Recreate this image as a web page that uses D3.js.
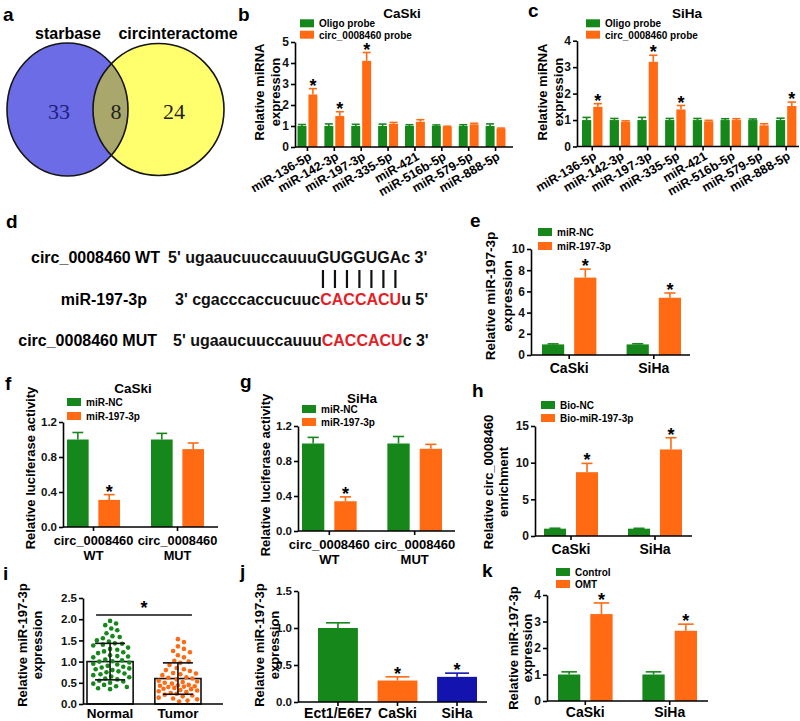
<!DOCTYPE html>
<html lang="en">
<head>
<meta charset="UTF-8">
<title>circ_0008460 / miR-197-3p</title>
<style>
  body { margin: 0; background: #fff; }
  svg { display: block; font-family: "Liberation Sans", Arial, sans-serif; font-weight: bold; }
</style>
</head>
<body>
<svg id="fig" width="800" height="721"></svg>
<script src="https://d3js.org/d3.v7.min.js"></script>
<script>
// ---------- data ----------
const vennSets = ['starbase', 'circinteractome']
const vennCounts = [33, 8, 24]   // starbase only, shared, circinteractome only

const mirnas = ['miR-136-5p', 'miR-142-3p', 'miR-197-3p', 'miR-335-5p', 'miR-421', 'miR-516b-5p', 'miR-579-5p', 'miR-888-5p']
const probeNames = ['Oligo probe', 'circ_0008460 probe']
const caskiOligo = [1.0, 1.0, 1.0, 1.0, 1.0, 1.0, 1.0, 1.0]
const caskiOligoErr = [0.07, 0.1, 0.08, 0.09, 0.06, 0.05, 0.06, 0.1]
const caskiProbe = [2.5, 1.48, 4.1, 1.1, 1.2, 0.96, 1.08, 0.87]
const caskiProbeErr = [0.28, 0.2, 0.4, 0.07, 0.1, 0.03, 0.05, 0.03]
const caskiStars = [true, true, true, false, false, false, false, false]
const sihaOligo = [1.0, 1.0, 1.0, 1.0, 1.0, 1.0, 1.0, 1.0]
const sihaOligoErr = [0.1, 0.06, 0.1, 0.06, 0.06, 0.05, 0.04, 0.07]
const sihaProbe = [1.5, 0.93, 3.2, 1.4, 0.95, 1.0, 0.8, 1.53]
const sihaProbeErr = [0.12, 0.04, 0.25, 0.15, 0.04, 0.05, 0.06, 0.15]
const sihaStars = [true, false, true, true, false, false, false, true]

const wtLabel = 'circ_0008460 WT'
const wtSeq = ["5' ugaaucuuccauuu", 'GUGGUGA', "c 3'"]
const mirLabel = 'miR-197-3p'
const mirSeq = ["3' cgacccaccucuuc", 'CACCACU', "u 5'"]
const mutLabel = 'circ_0008460 MUT'
const mutSeq = ["5' ugaaucuuccauuu", 'CACCACU', "c 3'"]

const cells = ['CaSki', 'SiHa']
const mimicNames = ['miR-NC', 'miR-197-3p']
const eNC = [1.0, 1.0], eNCErr = [0.05, 0.06]
const eMimic = [7.3, 5.4], eMimicErr = [0.8, 0.45]

const constructs = ['circ_0008460 WT', 'circ_0008460 MUT']
const fNC = [1.0, 1.0], fNCErr = [0.08, 0.07]
const fMimic = [0.31, 0.89], fMimicErr = [0.06, 0.07]
const gNC = [1.0, 1.0], gNCErr = [0.07, 0.08]
const gMimic = [0.34, 0.94], gMimicErr = [0.05, 0.05]

const bioNames = ['Bio-NC', 'Bio-miR-197-3p']
const hNC = [1.0, 1.0], hNCErr = [0.06, 0.05]
const hBio = [8.7, 11.8], hBioErr = [1.2, 1.6]

const tissues = ['Normal', 'Tumor']
const tissueMean = [1.0, 0.6]
const tissueSD = [0.43, 0.37]
const normalDots = [1.96, 1.9, 1.86, 1.78, 1.74, 1.67, 1.6, 1.58, 1.55, 1.5, 1.47, 1.43, 1.42, 1.4, 1.38, 1.33, 1.3, 1.28,
  1.24, 1.22, 1.2, 1.15, 1.13, 1.12, 1.1, 1.05, 1.03, 1.01, 1.0, 0.98, 0.95, 0.93, 0.9, 0.88, 0.86, 0.84, 0.82, 0.8,
  0.77, 0.75, 0.72, 0.7, 0.68, 0.65, 0.63, 0.6, 0.58, 0.55, 0.53, 0.5, 0.48, 0.45, 0.42, 0.4, 0.37, 0.35]
const tumorDots = [1.53, 1.46, 1.36, 1.3, 1.25, 1.22, 1.15, 1.1, 1.02, 1.0, 0.97, 0.92, 0.85, 0.82, 0.8, 0.78, 0.73, 0.72,
  0.7, 0.68, 0.63, 0.62, 0.6, 0.58, 0.55, 0.53, 0.52, 0.5, 0.48, 0.45, 0.44, 0.43, 0.42, 0.41, 0.4, 0.38, 0.36, 0.35,
  0.33, 0.32, 0.3, 0.28, 0.26, 0.24, 0.22, 0.2, 0.18, 0.15, 0.13, 0.11, 0.08, 0.06]

const lines = ['Ect1/E6E7', 'CaSki', 'SiHa']
const jValues = [1.0, 0.29, 0.34], jErr = [0.07, 0.05, 0.05]
const jStars = [false, true, true]

const omtNames = ['Control', 'OMT']
const kControl = [1.0, 1.0], kControlErr = [0.1, 0.1]
const kOMT = [3.28, 2.65], kOMTErr = [0.42, 0.25]

// ---------- style ----------
const GREEN = '#16881b', ORANGE = '#ff6a12', BLUE = '#1313b0', RED = '#e41e26'
const svg = d3.select('#fig')

// panel letters
const letters = [['a', 3, 21], ['b', 238, 21], ['c', 528, 17], ['d', 6, 228], ['e', 470, 227], ['f', 5, 390],
  ['g', 240, 388], ['h', 472, 397], ['i', 3, 580], ['j', 240, 578], ['k', 482, 577]]
svg.selectAll('.letter').data(letters).join('text')
  .attr('class', 'letter').attr('x', d => d[1]).attr('y', d => d[2])
  .attr('font-size', 19).text(d => d[0])

// ---------- a: venn ----------
const venn = [
  { cx: 67.5, cy: 109.5, rx: 60.5, ry: 66.5, fill: '#6c6ce6' },
  { cx: 158.5, cy: 109.5, rx: 65.5, ry: 66, fill: '#ffff6e' }
]
svg.append('clipPath').attr('id', 'leftClip').append('ellipse')
  .attr('cx', venn[0].cx).attr('cy', venn[0].cy).attr('rx', venn[0].rx).attr('ry', venn[0].ry)
svg.selectAll('.vfill').data(venn).join('ellipse').attr('class', 'vfill')
  .attr('cx', d => d.cx).attr('cy', d => d.cy).attr('rx', d => d.rx).attr('ry', d => d.ry).attr('fill', d => d.fill)
svg.append('ellipse').attr('clip-path', 'url(#leftClip)')
  .attr('cx', venn[1].cx).attr('cy', venn[1].cy).attr('rx', venn[1].rx).attr('ry', venn[1].ry).attr('fill', '#aaa76c')
svg.selectAll('.vline').data(venn).join('ellipse').attr('class', 'vline')
  .attr('cx', d => d.cx).attr('cy', d => d.cy).attr('rx', d => d.rx).attr('ry', d => d.ry)
  .attr('fill', 'none').attr('stroke', '#151515').attr('stroke-width', 1.6)
svg.selectAll('.vtitle').data(vennSets).join('text').attr('class', 'vtitle')
  .attr('x', (d, i) => [68, 178][i]).attr('y', 39).attr('text-anchor', 'middle').attr('font-size', 16).text(d => d)
svg.selectAll('.vnum').data(vennCounts).join('text').attr('class', 'vnum')
  .attr('x', (d, i) => [59, 116, 174][i]).attr('y', 119).attr('text-anchor', 'middle')
  .attr('font-family', '"Liberation Serif", "Times New Roman", serif').attr('font-weight', 'normal')
  .attr('font-size', 22).attr('fill', (d, i) => i === 0 ? '#20207a' : '#222').text(d => d)

// ---------- d: sequences ----------
function seqRow(label, labelX, seq, seqX, baseY, midColor) {
  svg.append('text').attr('x', labelX).attr('y', baseY).attr('text-anchor', 'end').attr('font-size', 16).text(label)
  const t = svg.append('text').attr('x', seqX).attr('y', baseY).attr('font-size', 16)
  seq.forEach((s, i) => t.append('tspan').attr('fill', i === 1 ? midColor : '#111').text(s))
  return t
}
const wtText = seqRow(wtLabel, 160, wtSeq, 168, 263, '#111')
seqRow(mirLabel, 147, mirSeq, 175, 305, RED)
seqRow(mutLabel, 157, mutSeq, 173, 346, RED)
const pairIdx = d3.range(wtSeq[0].length, wtSeq[0].length + wtSeq[1].length)
svg.selectAll('.pair').data(pairIdx).join('line').attr('class', 'pair')
  .attr('x1', i => { const b = wtText.node().getExtentOfChar(i); return b.x + b.width / 2 })
  .attr('x2', i => { const b = wtText.node().getExtentOfChar(i); return b.x + b.width / 2 })
  .attr('y1', 270).attr('y2', 288).attr('stroke', '#111').attr('stroke-width', 2.2)

// ---------- helpers ----------
function styleAxis(sel, fs) {
  sel.attr('font-family', null).attr('font-size', fs).attr('font-weight', 'bold')
  sel.select('.domain').attr('stroke-width', 1.6)
  sel.selectAll('.tick line').attr('stroke-width', 1.6)
  sel.selectAll('.tick text').attr('fill', '#111')
}

function yLabel(textLines, xs, cy, fs) {
  textLines.forEach((t, i) => {
    svg.append('text').attr('transform', `translate(${xs[i] + fs * 0.36},${cy}) rotate(-90)`)
      .attr('text-anchor', 'middle').attr('font-size', fs).text(t)
  })
}

function legend(x, y, gap, names, colors) {
  names.forEach((n, i) => {
    svg.append('rect').attr('x', x).attr('y', y + i * gap).attr('width', 14).attr('height', 8).attr('fill', colors[i])
    svg.append('text').attr('x', x + 19).attr('y', y + i * gap + 7.8).attr('font-size', 10).text(n)
  })
}

function title(t, x, y) {
  svg.append('text').attr('x', x).attr('y', y).attr('text-anchor', 'middle').attr('font-size', 13.5).text(t)
}

function barPanel(p) {
  const g = svg.append('g')
  const y = d3.scaleLinear().domain(p.yDomain).range([p.y0, p.y1])
  const x = d3.scaleBand().domain(p.cats).range(p.xRange).paddingInner(p.pad).paddingOuter(0)
  const xs = d3.scaleBand().domain(d3.range(p.series.length)).range([0, x.bandwidth()]).paddingInner(p.subPad)
  const cap = xs.bandwidth() * (p.capFrac || 0.5)

  p.series.forEach((s, si) => {
    const pts = p.cats.map((c, ci) => ({
      c, v: s.values[ci], e: s.errs[ci], star: s.stars ? s.stars[ci] : false,
      color: Array.isArray(s.color) ? s.color[ci] : s.color
    }))
    const mid = d => x(d.c) + xs(si) + xs.bandwidth() / 2
    g.selectAll(null).data(pts).join('rect')
      .attr('x', d => x(d.c) + xs(si)).attr('y', d => y(d.v))
      .attr('width', xs.bandwidth()).attr('height', d => y(0) - y(d.v)).attr('fill', d => d.color)
    g.selectAll(null).data(pts).join('line')
      .attr('x1', mid).attr('x2', mid).attr('y1', d => y(d.v)).attr('y2', d => y(d.v + d.e))
      .attr('stroke', d => d.color).attr('stroke-width', 1.6)
    g.selectAll(null).data(pts).join('line')
      .attr('x1', d => mid(d) - cap / 2).attr('x2', d => mid(d) + cap / 2)
      .attr('y1', d => y(d.v + d.e)).attr('y2', d => y(d.v + d.e))
      .attr('stroke', d => d.color).attr('stroke-width', 1.6)
    g.selectAll(null).data(pts.filter(d => d.star)).join('text')
      .attr('x', mid).attr('y', d => y(d.v + d.e) + 3).attr('text-anchor', 'middle')
      .attr('font-size', 18).text('*')
  })

  // axes
  const ya = g.append('g').attr('transform', `translate(${p.axisX},0)`)
    .call(d3.axisLeft(y).tickValues(p.ticks).tickFormat(p.fmt).tickSize(4).tickSizeOuter(0).tickPadding(2))
  styleAxis(ya, p.tickFs || 12)
  g.append('line').attr('x1', p.axisX).attr('x2', p.axisEnd).attr('y1', p.y0).attr('y2', p.y0)
    .attr('stroke', '#000').attr('stroke-width', 1.6)
  const xa = g.append('g').attr('transform', `translate(0,${p.y0})`)
    .call(d3.axisBottom(x).tickSize(4).tickFormat('').tickSizeOuter(0))
  xa.select('.domain').remove()
  xa.selectAll('.tick line').attr('stroke-width', 1.6)

  // category labels
  if (p.rotate) {
    g.selectAll(null).data(p.cats).join('text')
      .attr('transform', d => `translate(${x(d) + x.bandwidth() / 2 + 5},${p.y0 + 12}) rotate(-30)`)
      .attr('text-anchor', 'end').attr('font-size', 12.5).text(d => d)
  } else {
    p.cats.forEach(c => {
      const parts = p.split ? c.split(' ') : [c]
      parts.forEach((t, k) => {
        g.append('text').attr('x', x(c) + x.bandwidth() / 2).attr('y', p.y0 + (p.labelDy || 17.5) + k * 15)
          .attr('text-anchor', 'middle').attr('font-size', p.catFs || 14).text(t)
      })
    })
  }
  return { x, y }
}

// ---------- b, c ----------
barPanel({
  cats: mirnas, yDomain: [0, 5], ticks: [0, 1, 2, 3, 4, 5], fmt: d3.format('d'),
  y0: 147, y1: 42, axisX: 295, axisEnd: 513, xRange: [297.5, 505.5], pad: 0.26, subPad: 0.18, capFrac: 0.9, rotate: true,
  series: [
    { values: caskiOligo, errs: caskiOligoErr, color: GREEN },
    { values: caskiProbe, errs: caskiProbeErr, color: ORANGE, stars: caskiStars }
  ]
})
title('CaSki', 402, 18)
legend(300, 19.3, 11.4, probeNames, [GREEN, ORANGE])
yLabel(['Relative miRNA', 'expression'], [259, 275], 92, 13)

barPanel({
  cats: mirnas, yDomain: [0, 4], ticks: [0, 1, 2, 3, 4], fmt: d3.format('d'),
  y0: 146.5, y1: 40.7, axisX: 577, axisEnd: 799, xRange: [582, 796.4], pad: 0.26, subPad: 0.18, capFrac: 0.9, rotate: true,
  series: [
    { values: sihaOligo, errs: sihaOligoErr, color: GREEN },
    { values: sihaProbe, errs: sihaProbeErr, color: ORANGE, stars: sihaStars }
  ]
})
title('SiHa', 687, 18)
legend(586, 19.3, 11.4, probeNames, [GREEN, ORANGE])
yLabel(['Relative miRNA', 'expression'], [542, 558], 92, 13)

// ---------- e ----------
barPanel({
  cats: cells, yDomain: [0, 10], ticks: [0, 2, 4, 6, 8, 10], fmt: d3.format('d'),
  y0: 355, y1: 249, axisX: 531, axisEnd: 690, xRange: [542, 681], pad: 0.357, subPad: 0.31,
  series: [
    { values: eNC, errs: eNCErr, color: GREEN },
    { values: eMimic, errs: eMimicErr, color: ORANGE, stars: [true, true] }
  ]
})
legend(538, 228, 14, mimicNames, [GREEN, ORANGE])
yLabel(['Relative miR-197-3p', 'expression'], [490, 507], 296, 13.5)

// ---------- f, g ----------
barPanel({
  cats: constructs, yDomain: [0, 1.2], ticks: [0, 0.4, 0.8, 1.2], fmt: d3.format('.1f'), tickFs: 11.5,
  y0: 527, y1: 422, axisX: 63, axisEnd: 218, xRange: [67, 204], pad: 0.369, subPad: 0.31, split: true, catFs: 12.8,
  series: [
    { values: fNC, errs: fNCErr, color: GREEN },
    { values: fMimic, errs: fMimicErr, color: ORANGE, stars: [true, false] }
  ]
})
title('CaSki', 133, 393)
legend(67, 398, 14, mimicNames, [GREEN, ORANGE])
yLabel(['Relative luciferase activity'], [30], 468, 13)

barPanel({
  cats: constructs, yDomain: [0, 1.2], ticks: [0, 0.4, 0.8, 1.2], fmt: d3.format('.1f'), tickFs: 11.5,
  y0: 531, y1: 426, axisX: 298, axisEnd: 455, xRange: [302, 442], pad: 0.36, subPad: 0.31, split: true, catFs: 13,
  series: [
    { values: gNC, errs: gNCErr, color: GREEN },
    { values: gMimic, errs: gMimicErr, color: ORANGE, stars: [true, false] }
  ]
})
title('SiHa', 362, 403)
legend(302, 405, 13, mimicNames, [GREEN, ORANGE])
yLabel(['Relative luciferase activity'], [265], 475, 13)

// ---------- h ----------
barPanel({
  cats: cells, yDomain: [0, 15], ticks: [0, 5, 10, 15], fmt: d3.format('d'),
  y0: 536, y1: 426, axisX: 535, axisEnd: 692, xRange: [544, 682], pad: 0.357, subPad: 0.31,
  series: [
    { values: hNC, errs: hNCErr, color: GREEN },
    { values: hBio, errs: hBioErr, color: ORANGE, stars: [true, true] }
  ]
})
legend(541, 401, 13, bioNames, [GREEN, ORANGE])
yLabel(['Relative circ_0008460', 'enrichment'], [488, 503], 482, 13)

// ---------- i: scatter with bars ----------
{
  const y = d3.scaleLinear().domain([0, 2.5]).range([704, 598])
  const x = d3.scaleBand().domain(tissues).range([87, 201]).paddingInner(0.32)
  const g = svg.append('g')
  const summary = tissues.map((t, i) => ({ t, m: tissueMean[i], sd: tissueSD[i] }))
  g.selectAll(null).data(summary).join('rect')
    .attr('x', d => x(d.t)).attr('y', d => y(d.m)).attr('width', x.bandwidth()).attr('height', d => y(0) - y(d.m))
    .attr('fill', '#fff').attr('stroke', '#111').attr('stroke-width', 1.6)

  // simple beeswarm kept inside the bar width
  function swarm(values, cx, half) {
    const placed = []
    values.slice().sort((a, b) => b - a).forEach(v => {
      const py = y(v)
      let best = null, bestD = -1
      for (let k = 0; ; k++) {
        const off = Math.ceil(k / 2) * (k % 2 ? 1 : -1) * 1.2
        if (Math.abs(off) > half) break
        const px = cx + off
        const dmin = placed.length ? d3.min(placed, q => (q.x - px) ** 2 + (q.y - py) ** 2) : 1e9
        if (dmin >= 38) { best = px; break }
        if (dmin > bestD) { bestD = dmin; best = px }
      }
      placed.push({ x: best, y: py })
    })
    return placed
  }
  const dotSets = [[normalDots, GREEN], [tumorDots, ORANGE]]
  dotSets.forEach(([vals, col], i) => {
    const cx = x(tissues[i]) + x.bandwidth() / 2
    g.selectAll(null).data(swarm(vals, cx, x.bandwidth() / 2 - 3)).join('circle')
      .attr('cx', d => d.x).attr('cy', d => d.y).attr('r', 2.3).attr('fill', col)
  })
  const mid = d => x(d.t) + x.bandwidth() / 2
  g.selectAll(null).data(summary).join('line')
    .attr('x1', mid).attr('x2', mid).attr('y1', d => y(d.m - d.sd)).attr('y2', d => y(d.m + d.sd))
    .attr('stroke', '#111').attr('stroke-width', 1.6)
  ;['-', '+'].forEach(sgn => {
    g.selectAll(null).data(summary).join('line')
      .attr('x1', d => mid(d) - 15).attr('x2', d => mid(d) + 15)
      .attr('y1', d => y(sgn === '+' ? d.m + d.sd : d.m - d.sd)).attr('y2', d => y(sgn === '+' ? d.m + d.sd : d.m - d.sd))
      .attr('stroke', '#111').attr('stroke-width', 1.6)
  })
  // significance bar
  const sigY = y(2.1)
  const xN = mid(summary[0]) - 14, xT = mid(summary[1]) + 14
  g.append('line').attr('x1', xN).attr('x2', xT).attr('y1', sigY).attr('y2', sigY).attr('stroke', '#111').attr('stroke-width', 1.6)
  g.append('text').attr('x', (xN + xT) / 2).attr('y', sigY - 1).attr('text-anchor', 'middle').attr('font-size', 18).text('*')

  const ya = g.append('g').attr('transform', 'translate(83,0)')
    .call(d3.axisLeft(y).tickValues([0, 0.5, 1, 1.5, 2, 2.5]).tickFormat(d3.format('.1f')).tickSize(4).tickSizeOuter(0).tickPadding(2))
  styleAxis(ya, 11.5)
  g.append('line').attr('x1', 83).attr('x2', 223).attr('y1', 704).attr('y2', 704).attr('stroke', '#000').attr('stroke-width', 1.6)
  g.selectAll(null).data(tissues).join('text')
    .attr('x', d => x(d) + x.bandwidth() / 2).attr('y', 718).attr('text-anchor', 'middle').attr('font-size', 13.5).text(d => d)
}
yLabel(['Relative miR-197-3p', 'expression'], [22, 37], 645, 13)

// ---------- j ----------
barPanel({
  cats: lines, yDomain: [0, 1.5], ticks: [0, 0.5, 1, 1.5], fmt: d3.format('.1f'), tickFs: 11.5,
  y0: 702, y1: 591, axisX: 298, axisEnd: 487, xRange: [318, 477], pad: 0.33, subPad: 0, capFrac: 0.6, labelDy: 15.5,
  series: [{ values: jValues, errs: jErr, color: [GREEN, ORANGE, BLUE], stars: jStars }]
})
yLabel(['Relative miR-197-3p', 'expression'], [259, 274], 645, 13)

// ---------- k ----------
barPanel({
  cats: cells, yDomain: [0, 4], ticks: [0, 1, 2, 3, 4], fmt: d3.format('d'),
  y0: 701, y1: 595, axisX: 547, axisEnd: 708, xRange: [558, 697], pad: 0.353, subPad: 0.31, capFrac: 0.7, labelDy: 15.5,
  series: [
    { values: kControl, errs: kControlErr, color: GREEN },
    { values: kOMT, errs: kOMTErr, color: ORANGE, stars: [true, true] }
  ]
})
legend(556, 568, 12, omtNames, [GREEN, ORANGE])
yLabel(['Relative miR-197-3p', 'expression'], [513, 527], 648, 13)
</script>
</body>
</html>
